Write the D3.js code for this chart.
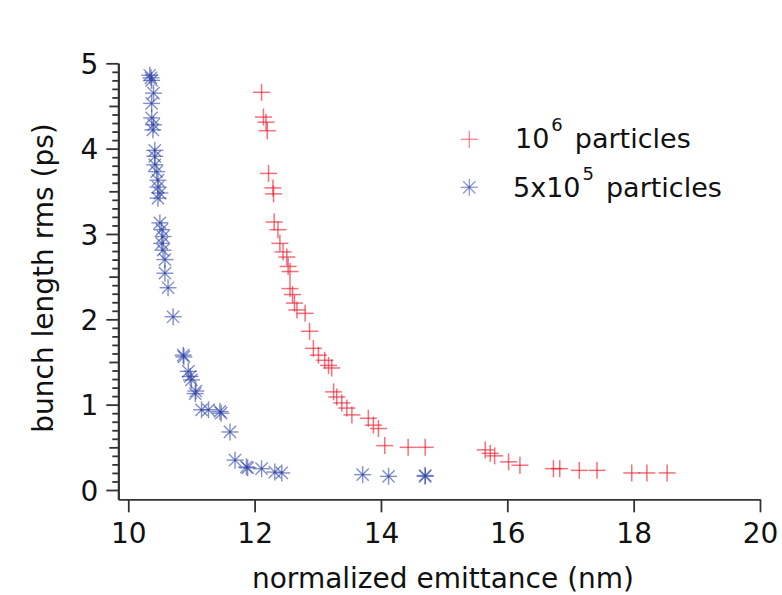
<!DOCTYPE html>
<html><head><meta charset="utf-8">
<script src="https://cdn.jsdelivr.net/npm/d3@7"></script>
<style>html,body{margin:0;padding:0;background:#fff;}svg{display:block;}</style>
</head><body><svg id="c" width="782" height="595"></svg>
<script>
const redX = [12.11,12.14,12.18,12.20,12.22,12.29,12.30,12.31,12.37,12.40,12.45,12.51,12.53,12.56,12.56,12.60,12.63,12.67,12.80,12.87,12.93,13.01,13.11,13.17,13.22,13.25,13.30,13.38,13.46,13.54,13.80,13.88,13.96,14.06,14.43,14.70,15.65,15.73,15.80,16.02,16.20,16.73,16.83,17.14,17.42,17.97,18.21,18.53];
const redY = [4.66,4.37,4.31,4.21,3.71,3.54,3.47,3.14,3.05,2.89,2.79,2.73,2.62,2.56,2.36,2.29,2.19,2.11,2.07,1.86,1.66,1.58,1.52,1.46,1.43,1.15,1.09,1.02,0.96,0.88,0.84,0.76,0.72,0.52,0.50,0.50,0.47,0.43,0.40,0.33,0.29,0.25,0.25,0.23,0.23,0.20,0.20,0.20];
const blueX = [10.34,10.37,10.36,10.40,10.37,10.37,10.40,10.39,10.42,10.42,10.42,10.45,10.47,10.47,10.50,10.47,10.50,10.53,10.55,10.53,10.55,10.58,10.58,10.63,10.71,10.87,10.88,10.95,10.98,11.00,11.06,11.07,11.16,11.27,11.45,11.47,11.61,11.69,11.87,11.89,12.11,12.32,12.43,13.71,14.12,14.70,14.70];
const blueY = [4.86,4.80,4.83,4.65,4.53,4.36,4.28,4.22,3.98,3.91,3.81,3.73,3.63,3.55,3.48,3.42,3.13,3.05,2.97,2.89,2.81,2.70,2.54,2.37,2.03,1.58,1.56,1.39,1.33,1.29,1.13,1.16,0.94,0.94,0.92,0.90,0.68,0.35,0.27,0.26,0.25,0.21,0.20,0.18,0.16,0.16,0.17];
const xTicks = [10,12,14,16,18,20];
const yTicks = [0,1,2,3,4,5];
const seriesNames = ["10", "5x10"];
const seriesExp = ["6", "5"];

const svg = d3.select("#c");
const font = "DejaVu Sans, Verdana, sans-serif";
const x = d3.scaleLinear().domain([9.842, 20]).range([118.3, 760]);
const y = d3.scaleLinear().domain([-0.109, 5]).range([499.3, 63.3]);

const yMinor = d3.range(0, 5.0001, 0.1).map(v => +v.toFixed(1));
const yMid = yMinor.filter(v => Math.abs(v*2 - Math.round(v*2)) < 1e-6 && Math.abs(v - Math.round(v)) > 1e-6);
const ySmall = yMinor.filter(v => Math.abs(v*2 - Math.round(v*2)) > 1e-6);

function styleAxis(g){
  g.selectAll("path,line").attr("stroke","#333").attr("stroke-width",1.8);
  g.selectAll("text").attr("font-family",font).attr("font-size",28).attr("fill","#111");
}
const gyS = svg.append("g").attr("transform","translate(118.3,0)")
  .call(d3.axisLeft(y).tickValues(ySmall).tickSize(6).tickFormat("").tickSizeOuter(0));
styleAxis(gyS);
const gyM = svg.append("g").attr("transform","translate(118.3,0)")
  .call(d3.axisLeft(y).tickValues(yMid).tickSize(9).tickFormat("").tickSizeOuter(0));
styleAxis(gyM);
const gy = svg.append("g").attr("transform","translate(118.3,0)")
  .call(d3.axisLeft(y).tickValues(yTicks).tickSize(12).tickPadding(8).tickFormat(d3.format("d")).tickSizeOuter(0));
styleAxis(gy);
gy.selectAll("text").attr("dy","0.36em");

const gx = svg.append("g").attr("transform","translate(0,499.3)")
  .call(d3.axisBottom(x).tickValues(xTicks).tickSize(13).tickPadding(11).tickFormat(d3.format("d")).tickSizeOuter(0));
styleAxis(gx);

svg.append("text").attr("x",443).attr("y",588).attr("text-anchor","middle")
  .attr("font-family",font).attr("font-size",28).attr("fill","#111")
  .text("normalized emittance (nm)");
svg.append("text").attr("transform","translate(53,278) rotate(-90)").attr("text-anchor","middle")
  .attr("font-family",font).attr("font-size",28).attr("fill","#111")
  .text("bunch length rms (ps)");

const redCol = "#ee2233", blueCol = "#2f45a5";
function drawPlus(g, cx, cy, s){
  g.append("line").attr("x1",cx-s).attr("x2",cx+s).attr("y1",cy).attr("y2",cy);
  g.append("line").attr("x1",cx).attr("x2",cx).attr("y1",cy-s).attr("y2",cy+s);
}
function drawStar(g, cx, cy, s){
  const d = s*0.72;
  g.append("line").attr("x1",cx-s).attr("x2",cx+s).attr("y1",cy).attr("y2",cy);
  g.append("line").attr("x1",cx).attr("x2",cx).attr("y1",cy-s).attr("y2",cy+s);
  g.append("line").attr("x1",cx-d).attr("x2",cx+d).attr("y1",cy-d).attr("y2",cy+d);
  g.append("line").attr("x1",cx-d).attr("x2",cx+d).attr("y1",cy+d).attr("y2",cy-d);
}
const gb = svg.append("g").attr("stroke",blueCol).attr("stroke-width",1.4).attr("stroke-opacity",0.6);
blueX.forEach((v,i) => drawStar(gb.append("g"), x(v), y(blueY[i]), 8.5));
const gr = svg.append("g").attr("stroke",redCol).attr("stroke-width",1.5).attr("stroke-opacity",0.65);
redX.forEach((v,i) => drawPlus(gr.append("g"), x(v), y(redY[i]), 8.5));

const lg = svg.append("g");
drawPlus(lg.append("g").attr("stroke",redCol).attr("stroke-width",1.3).attr("stroke-opacity",0.55), 469.3, 139.3, 8.5);
drawStar(lg.append("g").attr("stroke",blueCol).attr("stroke-width",1.3).attr("stroke-opacity",0.55), 469.3, 187.3, 8.5);
[[515,148],[513,197]].forEach((p,i) => {
  const t = lg.append("text").attr("x",p[0]).attr("y",p[1])
    .attr("font-family",font).attr("font-size",27).attr("fill","#111");
  t.append("tspan").text(seriesNames[i]);
  t.append("tspan").attr("dy",-17).attr("dx",2).attr("font-size",18).text(seriesExp[i]);
  t.append("tspan").attr("dy",17).attr("dx",12).text("particles");
});
</script></body></html>
